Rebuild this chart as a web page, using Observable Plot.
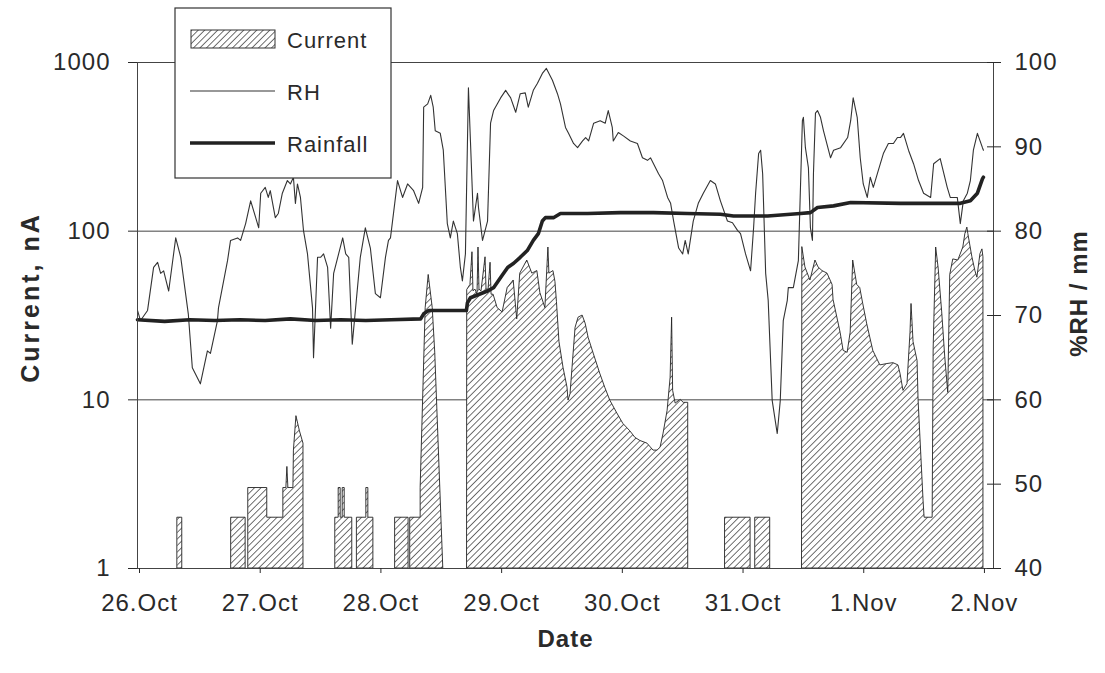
<!DOCTYPE html>
<html><head><meta charset="utf-8">
<script src="https://cdn.jsdelivr.net/npm/d3@7"></script>
<script src="https://cdn.jsdelivr.net/npm/@observablehq/plot@0.6"></script>
<style>
body{margin:0;background:#fff;}
</style>
</head><body><div id="chart"></div>
<script>
// x: hours since 26 Oct 00:00
const dayTicks = [0, 24, 48, 72, 96, 120, 144, 168];
const dayLabels = ["26.Oct", "27.Oct", "28.Oct", "29.Oct", "30.Oct", "31.Oct", "1.Nov", "2.Nov"];
const leftTicks = [1, 10, 100, 1000];
const rightTicks = [40, 50, 60, 70, 80, 90, 100];

// Relative humidity (%): [hour, RH]
const rhSeries = [
[-0.4,70.6],[0.2,69.4],[1.6,70.6],[2.8,75.7],[3.6,76.3],[4.2,75.0],[4.8,75.3],[5.8,72.9],[7.2,79.2],[8.2,76.9],
[9.7,70.2],[10.5,63.8],[12.1,61.9],[13.5,65.8],[14.1,65.5],[15.5,69.4],[15.7,70.9],[17.5,76.5],[18.1,78.9],[19.5,79.2],
[20.1,78.9],[21.1,80.9],[22.1,83.6],[23.1,81.6],[23.7,80.4],[24.1,84.5],[25.0,85.2],[25.6,84.0],[26.0,84.8],[27.0,81.6],
[27.6,82.1],[28.4,84.5],[29.4,86.0],[30.0,85.6],[30.6,86.4],[31.0,83.3],[31.4,85.6],[32.0,84.0],[32.6,80.1],[33.4,77.3],
[34.4,70.9],[34.6,65.0],[35.4,76.9],[36.0,76.9],[36.6,77.3],[37.4,75.7],[38.0,68.5],[38.6,75.0],[40.4,79.2],[41.0,77.3],
[41.6,76.9],[42.3,66.6],[43.9,76.9],[44.9,80.4],[45.9,78.0],[46.9,72.6],[47.9,72.1],[48.9,76.9],[49.5,78.9],[49.9,79.2],
[51.3,86.0],[52.3,84.0],[53.3,85.6],[54.5,84.8],[55.5,83.3],[56.3,85.2],[56.5,94.7],[57.3,95.1],[57.9,96.1],[58.4,94.7],
[58.8,91.9],[59.8,91.6],[60.4,89.6],[61.2,80.9],[61.8,79.2],[62.4,81.2],[63.2,79.7],[63.8,75.7],[64.2,74.1],[64.8,77.3],
[65.4,97.0],[65.8,90.7],[66.4,81.2],[67.2,84.5],[67.4,82.8],[68.2,78.9],[69.2,81.2],[69.8,92.8],[70.4,94.3],[71.8,95.8],
[72.8,96.7],[73.8,95.8],[74.8,94.1],[75.7,96.3],[76.7,96.4],[77.3,94.7],[78.3,96.7],[79.1,97.5],[80.1,98.7],[80.9,99.3],
[82.1,97.9],[83.1,96.3],[83.7,95.1],[84.7,92.3],[85.3,91.6],[86.3,90.4],[87.1,89.9],[88.1,90.7],[88.7,91.1],[89.3,90.7],
[90.3,92.8],[91.6,93.1],[92.6,92.8],[93.2,94.3],[94.0,92.3],[94.2,90.7],[95.2,91.7],[96.2,91.3],[97.6,90.7],[99.0,90.4],
[100.0,88.7],[101.0,88.4],[101.6,88.7],[102.2,88.0],[103.2,86.8],[104.0,86.0],[105.0,84.0],[105.6,83.3],[106.2,81.2],[107.2,78.0],
[108.0,77.3],[108.5,78.9],[109.1,77.3],[110.1,81.2],[111.1,83.3],[112.1,84.5],[113.5,86.0],[114.5,85.6],[115.5,83.6],[116.9,81.2],
[117.9,81.0],[118.9,80.1],[119.5,79.7],[120.5,77.3],[121.5,75.3],[122.1,80.4],[122.5,84.5],[123.1,89.2],[123.5,89.6],[123.9,86.8],
[124.5,75.0],[125.0,71.8],[125.8,59.9],[126.8,56.0],[127.4,59.9],[128.0,69.4],[128.8,71.8],[129.0,73.3],[130.0,73.3],[131.0,76.5],
[131.8,93.1],[132.0,93.5],[132.4,89.9],[133.0,87.5],[133.4,80.4],[133.8,78.9],[134.0,86.8],[134.4,94.0],[134.8,94.3],[135.4,93.5],
[136.0,91.9],[137.4,88.7],[138.0,89.6],[139.4,89.9],[140.8,91.1],[141.4,93.1],[141.9,95.8],[142.7,93.5],[143.3,88.7],[143.9,85.6],
[144.7,84.0],[145.3,86.4],[145.9,85.2],[146.9,87.2],[147.9,89.2],[148.9,90.4],[149.9,90.4],[150.7,91.1],[151.3,91.1],[151.9,91.6],
[152.9,89.6],[153.9,88.0],[154.9,86.0],[155.9,84.5],[157.3,84.0],[157.9,88.0],[159.2,88.6],[160.6,85.2],[161.2,84.0],[162.6,84.0],
[163.2,80.9],[163.8,83.6],[164.6,84.5],[165.2,86.0],[165.8,89.6],[166.6,91.6],[167.6,89.9],[167.8,89.6]
];

// Rainfall (mm): [hour, mm]
const rainSeries = [
[-0.4,69.5],[5,69.3],[10,69.5],[15,69.4],[20,69.5],[25,69.4],[30,69.6],[35,69.4],[40,69.5],[45,69.4],[50,69.5],
[55.9,69.6],[56.5,70.2],[57.5,70.6],[65.0,70.6],[65.2,71.5],[65.8,72.1],[69.2,72.9],[70.4,73.3],[71.8,74.5],[73.2,75.7],
[74.4,76.2],[75.7,76.9],[77.1,77.7],[78.3,78.9],[79.3,79.7],[80.1,81.2],[80.7,81.6],[82.3,81.6],[83.7,82.1],[89.1,82.1],
[95.6,82.2],[102.2,82.2],[108.9,82.1],[115.5,82.0],[118.1,81.8],[124.9,81.8],[131.4,82.1],[133.4,82.2],[134.8,82.8],
[138.0,83.0],[141.4,83.4],[151.3,83.3],[163.2,83.3],[165.2,83.6],[166.6,84.5],[167.6,86.2],[167.8,86.4]
];

// Current (nA): separate runs of [hour, nA]
const currentSegments = [
[[7.6,2],[8.5,2]],
[[18.3,2],[21.1,2]],
[[21.7,3],[25.4,3],[25.4,2],[28.6,2],[28.6,3],[29.2,3],[29.4,4],[29.6,3],[30.6,3],[30.7,5],[31.2,8],[31.9,6.5],[32.6,5.5]],
[[39.0,2],[39.6,2],[39.6,3],[40.0,3],[40.0,2],[40.4,2],[40.4,3],[40.8,3],[40.8,2],[42.3,2]],
[[43.3,2],[45.1,2],[45.1,3],[45.5,3],[45.5,2],[46.5,2]],
[[50.9,2],[53.5,2]],
[[53.9,2],[55.9,2],[55.9,3],[56.9,35],[57.5,55],[58.3,35],[58.8,19],[59.4,6.3],[60.4,1]],
[[65.2,45],[65.8,48],[66.2,75],[66.4,44],[66.8,45],[67.2,42],[67.4,80],[67.6,45],[68.0,44],[68.8,70],[69.0,45],[69.4,45],
 [69.8,65],[70.0,42],[70.4,42],[71.2,35],[72.2,33],[73.2,46],[74.4,51],[75.1,30],[75.7,56],[77.1,67],[78.1,56],[79.1,58],
 [79.7,43],[80.7,35],[81.3,80],[81.5,56],[82.3,58],[82.7,50],[83.0,38],[83.5,22],[84.3,15.5],[85.1,11.8],[85.3,9.9],
 [85.7,10.8],[86.1,15.5],[86.7,26.7],[87.3,30.7],[88.1,31.6],[88.7,28.3],[89.3,23.3],[90.3,18.8],[91.6,14.3],[92.6,11.8],
 [93.6,9.9],[95.0,8.3],[96.2,7.2],[97.6,6.5],[98.6,5.95],[99.6,5.7],[101.0,5.5],[102.2,5.0],[103.0,5.0],[103.6,5.2],
 [104.2,6.3],[105.0,8.6],[105.6,13.5],[105.9,30.7],[106.1,11.3],[106.6,9.5],[107.6,10],[108.2,9.6],[109.1,9.6]],
[[116.5,2],[121.5,2]],
[[122.5,2],[125.4,2]],
[[131.8,80],[132.4,61],[133.4,51],[134.4,67],[135.0,61],[135.8,58],[136.8,56],[137.8,48],[138.0,39],[139.4,25],
 [140.0,19.5],[140.8,19],[141.4,25],[141.9,67],[142.7,48],[143.3,46],[143.9,37],[144.7,28],[145.9,19.5],[147.3,16],
 [148.7,16.3],[149.9,16.5],[150.9,16],[151.3,14.3],[151.9,11.3],[152.7,12.4],[153.3,25],[153.5,37],[153.9,22],[154.7,17],
 [154.9,10],[155.9,2.5],[156.1,2],[157.7,2],[157.9,20],[158.4,80],[158.9,60],[159.6,33],[160.2,18],[160.8,11],
 [161.2,55],[161.8,68],[162.8,67],[163.8,80],[164.2,96],[164.6,105],[164.8,96],[165.6,70],[166.2,58],[166.6,53],
 [167.2,73],[167.6,78],[167.8,70]]
];

// right axis (%RH / mm) mapped onto the left log scale: 40 -> 1, 100 -> 1000
const toLeft = v => Math.pow(10, (v - 40) / 20);
const fromLeft = y => Math.round(40 + 20 * Math.log10(y));

const currentData = currentSegments.flatMap((seg, s) => seg.map(([h, v]) => ({h, v, s})));
const rhData = rhSeries.map(([h, v]) => ({h, v: toLeft(v)}));
const rainData = rainSeries.map(([h, v]) => ({h, v: toLeft(v)}));

const font = "'Liberation Sans', Arial, Helvetica, sans-serif";
const dayLabelOf = d => dayLabels[dayTicks.indexOf(d)];

const chart = Plot.plot({
  width: 1105,
  height: 673,
  marginLeft: 137,
  marginRight: 112,
  marginTop: 62,
  marginBottom: 105,
  style: {fontFamily: font, fontSize: "24px", color: "#2a2a2a", background: "#fff", letterSpacing: "1px"},
  x: {type: "linear", domain: [-0.4, 169.8]},
  y: {type: "log", domain: [1, 1000]},
  marks: [
    Plot.ruleY([10, 100], {stroke: "#444", strokeWidth: 1}),
    Plot.areaY(currentData, {x: "h", y1: 1, y2: "v", z: "s", fill: "url(#hatch)", stroke: "#222", strokeWidth: 0.9, curve: "linear"}),
    Plot.line(rhData, {x: "h", y: "v", stroke: "#333", strokeWidth: 1.1, curve: "linear"}),
    Plot.line(rainData, {x: "h", y: "v", stroke: "#222", strokeWidth: 3.6, curve: "linear"}),
    Plot.frame({stroke: "#444", strokeWidth: 1}),
    Plot.axisX(dayTicks, {anchor: "bottom", tickSize: 5, tickPadding: 20, tickFormat: dayLabelOf, label: null, fontSize: 24}),
    Plot.axisY(leftTicks, {anchor: "left", tickSize: 9, tickPadding: 18, tickFormat: d => String(d), label: null, fontSize: 24}),
    Plot.axisY(rightTicks.map(toLeft), {anchor: "right", tickSize: 7, dx: -7, tickFormat: () => "", label: null}),
    Plot.axisY(rightTicks.map(toLeft), {anchor: "right", tickSize: 7, tickPadding: 14, tickFormat: d => String(fromLeft(d)), label: null, fontSize: 24}),
    Plot.text(["Current, nA"], {frameAnchor: "left", dx: -107, dy: -18, rotate: -90, textAnchor: "middle", fontWeight: "bold", fontSize: 25, text: d => d}),
    Plot.text(["%RH / mm"], {frameAnchor: "right", dx: 86, dy: -22, rotate: -90, textAnchor: "middle", fontWeight: "bold", fontSize: 24, text: d => d}),
    Plot.text(["Date"], {frameAnchor: "bottom", dy: 78, textAnchor: "middle", fontWeight: "bold", fontSize: 24, text: d => d})
  ]
});

document.getElementById("chart").appendChild(chart);

// hatch pattern
const svg = d3.select(chart);
const defs = svg.insert("defs", ":first-child");
const pat = defs.append("pattern").attr("id", "hatch").attr("patternUnits", "userSpaceOnUse")
  .attr("width", 4.6).attr("height", 4.6).attr("patternTransform", "rotate(45)");
pat.append("rect").attr("width", 4.6).attr("height", 4.6).attr("fill", "#fff");
pat.append("line").attr("x1", 0).attr("y1", 0).attr("x2", 0).attr("y2", 4.6).attr("stroke", "#222").attr("stroke-width", 1.3);

// wider tracking on the left axis title, as in the reference
svg.selectAll("text").filter(function() { return this.textContent === "Current, nA"; }).style("letter-spacing", "3px");

// legend
const lg = svg.append("g").attr("font-family", font).attr("font-size", 22).attr("fill", "#2a2a2a")
  .attr("text-anchor", "start").style("letter-spacing", "1px");
lg.append("rect").attr("x", 175).attr("y", 8).attr("width", 216).attr("height", 170).attr("fill", "#fff").attr("stroke", "#333").attr("stroke-width", 1.2);
lg.append("rect").attr("x", 191).attr("y", 30).attr("width", 84).attr("height", 18).attr("fill", "url(#hatch)").attr("stroke", "#333").attr("stroke-width", 1);
lg.append("line").attr("x1", 190).attr("x2", 275).attr("y1", 91).attr("y2", 91).attr("stroke", "#333").attr("stroke-width", 1.1);
lg.append("line").attr("x1", 190).attr("x2", 275).attr("y1", 143).attr("y2", 143).attr("stroke", "#222").attr("stroke-width", 3.6);
const labels = ["Current", "RH", "Rainfall"];
const ly = [48, 100, 152];
labels.forEach((t, i) => lg.append("text").attr("x", 287).attr("y", ly[i]).attr("text-anchor", "start").text(t));
</script>
</body></html>
